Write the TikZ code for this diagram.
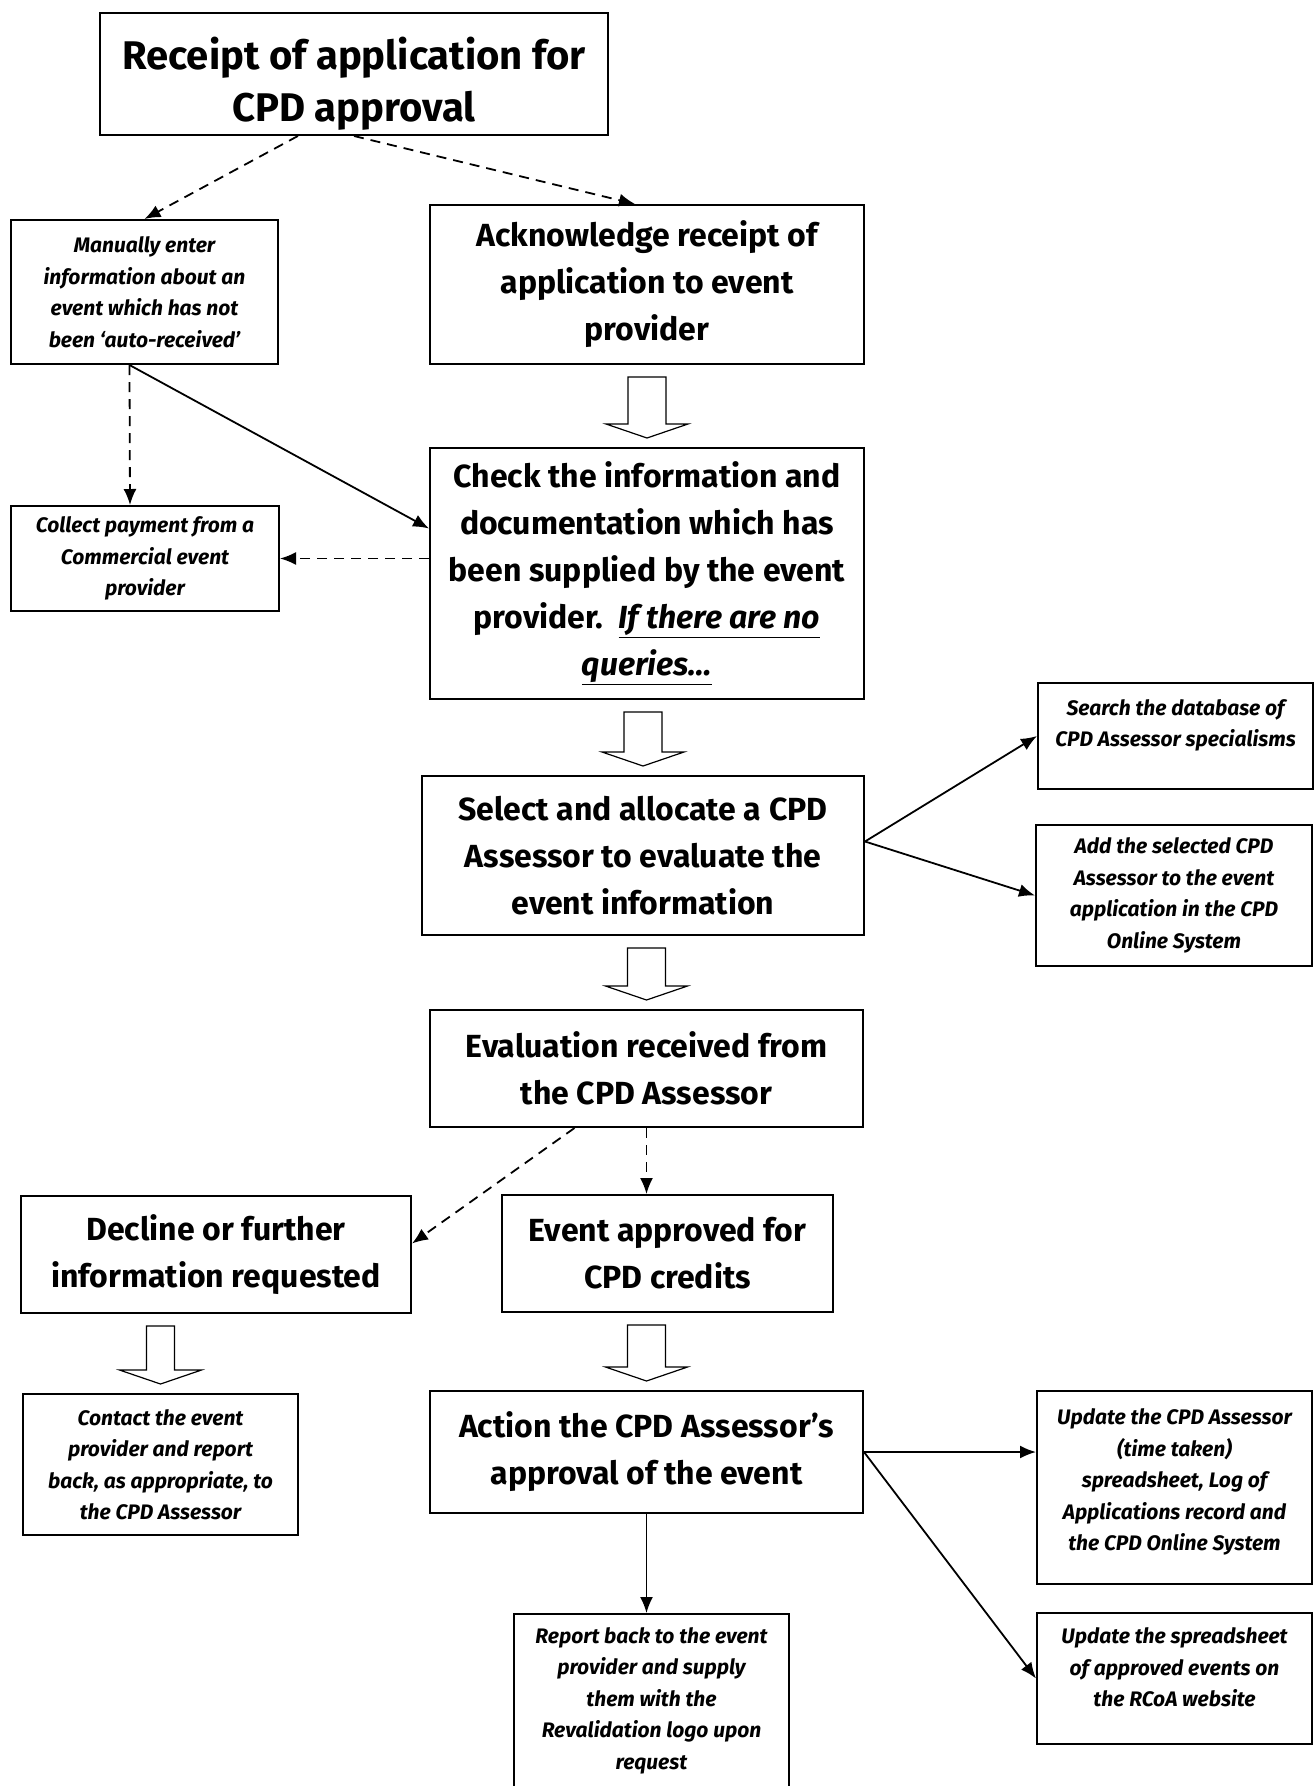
\documentclass[tikz,border=0pt]{standalone}
\usepackage{fontspec}
\setmainfont{Fira Sans}
\usepackage{tikz}
\usetikzlibrary{arrows.meta}
\usetikzlibrary{calc}
\newcommand{\TopFont}{\fontsize{40}{52}\selectfont\bfseries}
\newcommand{\BigFont}{\fontsize{32}{47}\selectfont\bfseries}
\newcommand{\SmallFont}{\fontsize{21}{31.5}\selectfont\bfseries\itshape}
\tikzset{
  Box/.style={draw,line width=2pt,align=center,inner sep=0pt,anchor=north west,font=\BigFont}, % grosse Kaesten
  NoteBox/.style={Box,font=\SmallFont}, % kleine Kaesten, kursiv
  Arrow/.style={line width=1.8pt,->}, % durchgezogene Pfeile
  DArrow/.style={Arrow,dash pattern=on 10pt off 7pt} % gestrichelte Pfeile
}
% Blockpfeil: von, nach, halbe Schaftbreite
\newcommand{\BlockArrow}[3]{%
  \coordinate (ba) at (#1.south -| #2.north);
  \draw[line width=1.2pt,fill=white]
    ($(ba)+(-#3,12)$) -- ($(#2.north)+(-#3,-23)$) -- ($(#2.north)+(-41,-23)$)
    -- ($(#2.north)+(0,-9)$) -- ($(#2.north)+(41,-23)$) -- ($(#2.north)+(#3,-23)$)
    -- ($(ba)+(#3,12)$) -- cycle;
}
\begin{document}
\begin{tikzpicture}[x=1pt,y=-1pt,
>={Latex[length=16pt,width=13pt]} % Pfeilspitzen
]
\useasboundingbox (0,0) rectangle (1314,1786);

%Kaesten
\node[Box,font=\TopFont,minimum width=508pt,minimum height=122pt] (rcpt) at (99,12)
  {\rule{0pt}{52pt}Receipt of application for\\CPD approval};
\node[NoteBox,minimum width=267pt,minimum height=144pt] (manual) at (10,219)
  {Manually enter\\information about an\\event which has not\\been ‘auto-received’};
\node[Box,minimum width=434pt,minimum height=159pt] (ack) at (429,204)
  {Acknowledge receipt of\\application to event\\provider};
\node[Box,minimum width=434pt,minimum height=251pt] (check) at (429,447)
  {Check the information and\\documentation which has\\been supplied by the event\\
   provider.~~\underline{\itshape If there are no}\\\underline{\itshape queries…}};
\node[NoteBox,minimum width=268pt,minimum height=105pt] (collect) at (10,505)
  {Collect payment from a\\Commercial event\\provider};
\node[Box,minimum width=442pt,minimum height=159pt] (select) at (421,775)
  {Select and allocate a CPD\\Assessor to evaluate the\\event information};
\node[NoteBox,minimum width=275pt,minimum height=106pt] (search) at (1037,682)
  {Search the database of\\CPD Assessor specialisms\\[-6pt]};
\node[NoteBox,minimum width=276pt,minimum height=141pt] (add) at (1035,824)
  {Add the selected CPD\\Assessor to the event\\application in the CPD\\Online System};
\node[Box,minimum width=433pt,minimum height=117pt] (eval) at (429,1009)
  {Evaluation received from\\the CPD Assessor};
\node[Box,minimum width=390pt,minimum height=117pt] (decline) at (20,1195)
  {Decline or further\\information requested};
\node[Box,minimum width=331pt,minimum height=117pt] (approved) at (501,1194)
  {Event approved for\\CPD credits};
\node[NoteBox,minimum width=275pt,minimum height=141pt] (contact) at (22,1393)
  {Contact the event\\provider and report\\back, as appropriate, to\\the CPD Assessor};
\node[Box,minimum width=433pt,minimum height=122pt] (action) at (429,1390)
  {Action the CPD Assessor’s\\approval of the event};
\node[NoteBox,minimum width=275pt,minimum height=193pt] (updcpd) at (1036,1390)
  {Update the CPD Assessor\\(time taken)\\spreadsheet, Log of\\Applications record and\\the CPD Online System\\[-16pt]};
\node[NoteBox,minimum width=275pt,minimum height=131pt] (updsheet) at (1036,1612)
  {Update the spreadsheet\\of approved events on\\the RCoA website\\[-9pt]};
\node[NoteBox,minimum width=275pt,minimum height=173pt] (report) at (513,1613)
  {Report back to the event\\provider and supply\\them with the\\Revalidation logo upon\\request};

%Blockpfeile
\BlockArrow{ack}{check}{19}
\BlockArrow{check}{select}{19}
\BlockArrow{select}{eval}{19}
\BlockArrow{approved}{action}{19}
\BlockArrow{decline}{contact}{14}

%Verbindungen
\draw[DArrow] ($(rcpt.south west)!.39!(rcpt.south east)$) -- (manual.north);
\draw[DArrow] (rcpt.south) -- ([xshift=-12pt]ack.north);
\draw[DArrow] ([xshift=-15pt]manual.south) -- ([xshift=-15pt]collect.north);
\draw[Arrow] ([xshift=-15pt]manual.south) -- ([yshift=45pt]check.west);
\draw[DArrow] (check.west |- collect.east) -- (collect.east);
\draw[Arrow] ([yshift=14pt]select.east) -- (search.west);
\draw[Arrow] ([yshift=14pt]select.east) -- (add.west);
\draw[DArrow] ([xshift=-72pt]eval.south) -- ([yshift=11pt]decline.east);
\draw[DArrow] (eval.south) -- (eval.south |- approved.north);
\draw[Arrow] (action.east) -- (action.east -| updcpd.west);
\draw[Arrow] (action.east) -- (updsheet.west);
\draw[Arrow] (action.south) -- (action.south |- report.north);

\end{tikzpicture}
\end{document}
